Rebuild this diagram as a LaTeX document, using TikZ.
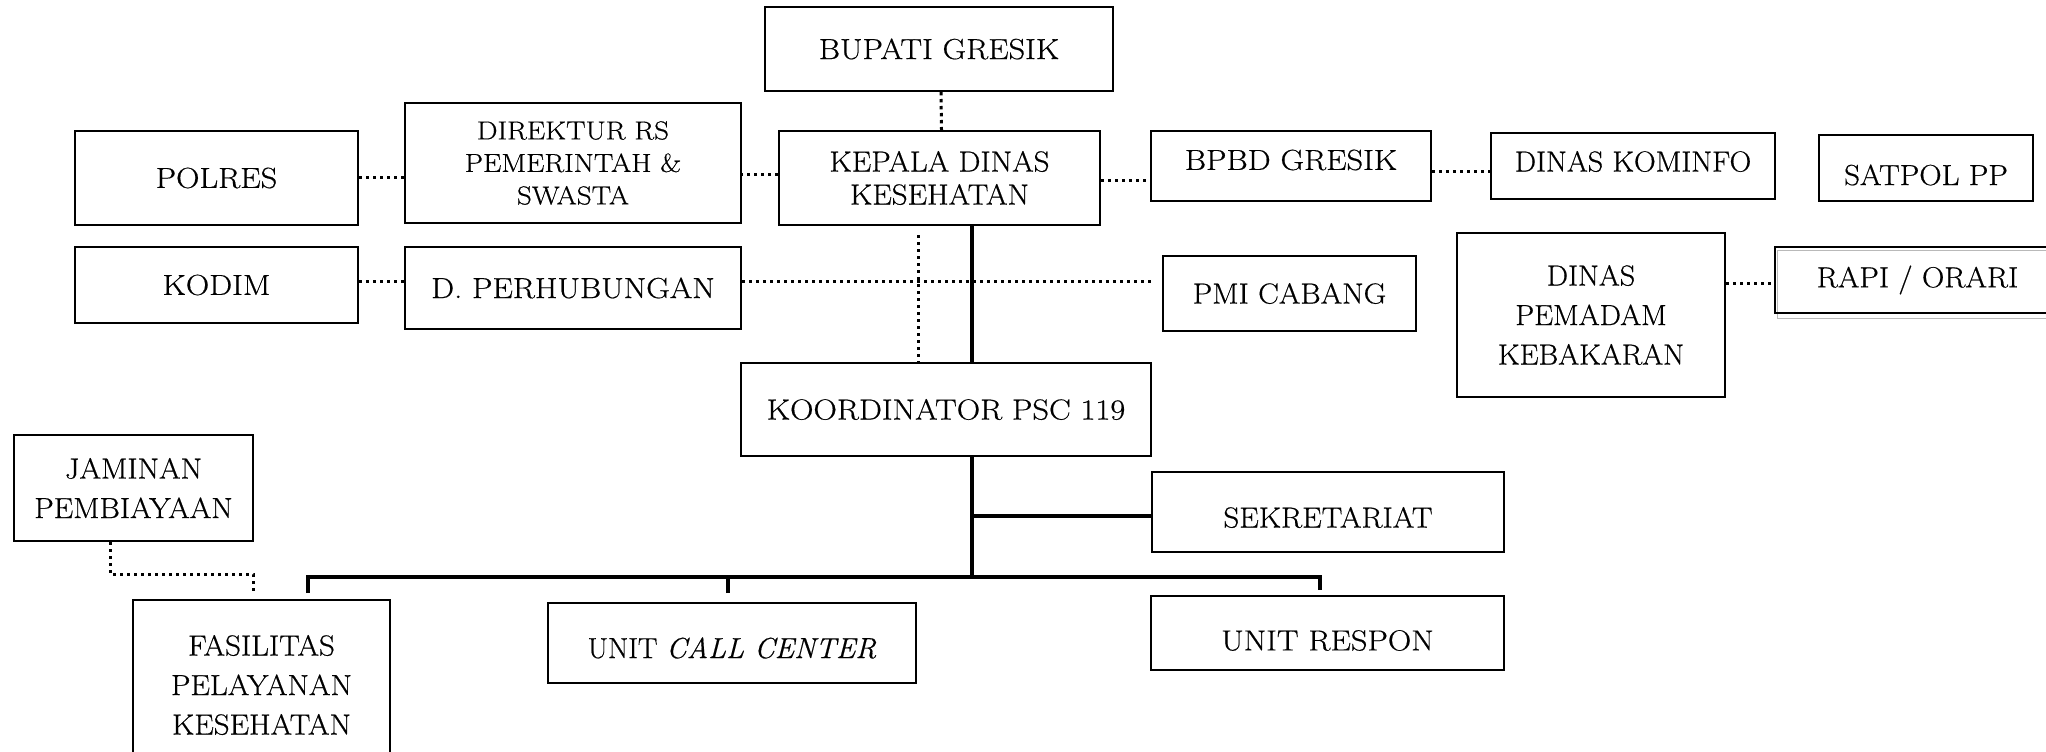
\documentclass[tikz,border=0pt]{standalone}
\usepackage{fontspec}
\setmainfont{Latin Modern Roman}[FakeStretch=1.12,FakeBold=0.5]
\newfontfamily\fnar{Latin Modern Roman}[FakeStretch=1.07,FakeBold=0.5]
\newfontfamily\fnarr{Latin Modern Roman}[FakeStretch=1.04,FakeBold=0.5]
\newfontfamily\fcall{Latin Modern Roman}[FakeStretch=1.01,FakeBold=0.5]
\newcommand\shtxt[2]{\raisebox{#1}[\height][\depth]{#2}}
\begin{document}
\begin{tikzpicture}[x=1pt,y=-1pt,
  box/.style={draw,line width=2pt,inner sep=0pt,align=center,
    font=\fontsize{29}{34}\selectfont},
  dotline/.style={line width=3pt,dash pattern=on 3.3pt off 3.7pt},
  conn/.style={line width=3.2pt}]
\useasboundingbox (0,0) rectangle (2046,752);
\fill[white] (0,0) rectangle (2046,752);
\clip (0,0) rectangle (2046,752);
% boxes
\node[box,minimum width=348pt,minimum height=84pt] (bupati) at (939,49) {BUPATI GRESIK};
\node[box,minimum width=283pt,minimum height=94pt] (polres) at (216.5,178) {POLRES};
\node[box,minimum width=336pt,minimum height=120pt,font=\fontsize{26}{32.5}\selectfont] (direktur) at (573,163) {DIREKTUR RS\\PEMERINTAH \&\\SWASTA};
\node[box,minimum width=321pt,minimum height=94pt,font=\fnar\fontsize{29}{33}\selectfont] (kepala) at (939.5,178) {KEPALA DINAS\\KESEHATAN};
\node[box,minimum width=280pt,minimum height=70pt] (bpbd) at (1291,166) {\shtxt{6pt}{BPBD GRESIK}};
\node[box,minimum width=284pt,minimum height=66pt,font=\fnarr\fontsize{29}{34}\selectfont] (kominfo) at (1633,166) {\shtxt{4.5pt}{DINAS KOMINFO}};
\node[box,minimum width=214pt,minimum height=66pt,font=\fnar\fontsize{29}{34}\selectfont] (satpol) at (1926,168) {\shtxt{-7pt}{SATPOL PP}};
\node[box,minimum width=283pt,minimum height=76pt] (kodim) at (216.5,285) {KODIM};
\node[box,minimum width=336pt,minimum height=82pt] (perhub) at (573,288) {D. PERHUBUNGAN};
\node[box,minimum width=253pt,minimum height=75pt,font=\fnar\fontsize{29}{34}\selectfont] (pmi) at (1289.5,293.5) {PMI CABANG};
\node[box,minimum width=268pt,minimum height=164pt,font=\fnarr\fontsize{29}{39.5}\selectfont] (pemadam) at (1591,315) {DINAS\\PEMADAM\\KEBAKARAN};
\draw[gray!55,line width=1pt] (1777,250) rectangle (2070,318);
\node[box,minimum width=295pt,minimum height=66pt,font=\fnar\fontsize{29}{34}\selectfont] (rapi) at (1922.5,280) {\hspace*{-10pt}RAPI / ORARI};
\node[box,minimum width=410pt,minimum height=93pt] (koord) at (946,409.5) {KOORDINATOR PSC 119};
\node[box,minimum width=239pt,minimum height=106pt,font=\fnar\fontsize{29}{39.5}\selectfont] (jaminan) at (133.5,488) {JAMINAN\\PEMBIAYAAN};
\node[box,minimum width=352pt,minimum height=80pt,font=\fnar\fontsize{29}{34}\selectfont] (sekret) at (1328,512) {\shtxt{-5.5pt}{SEKRETARIAT}};
\node[box,minimum width=257pt,minimum height=170pt,font=\fnar\fontsize{29}{39.5}\selectfont] (fasil) at (261.5,685) {FASILITAS\\PELAYANAN\\KESEHATAN};
\node[box,minimum width=368pt,minimum height=80pt,font=\fcall\fontsize{29}{34}\selectfont] (callc) at (732,643) {\shtxt{-5pt}{UNIT \textit{CALL CENTER}}};
\node[box,minimum width=353pt,minimum height=74pt] (respon) at (1327.5,633) {\shtxt{-7.5pt}{UNIT RESPON}};
% dotted connectors
\draw[dotline] ([xshift=2pt]bupati.south) -- ([xshift=2pt]kepala.north);
\draw[dotline] ([yshift=1pt]polres.east) -- ([yshift=1pt]polres.east -| direktur.west);
\draw[dotline] ([yshift=4pt]kepala.west) -- ([yshift=4pt]kepala.west -| direktur.east);
\draw[dotline] ([yshift=-2pt]kepala.east) -- ([yshift=-2pt]kepala.east -| bpbd.west);
\draw[dotline] ([yshift=-5pt]bpbd.east) -- ([yshift=-5pt]bpbd.east -| kominfo.west);
\draw[dotline] ([yshift=4pt]kodim.east) -- ([yshift=4pt]kodim.east -| perhub.west);
\draw[dotline] ([yshift=7pt]perhub.east) -- ([yshift=7pt]perhub.east -| koord.east);
\draw[dotline] ([xshift=-21.5pt,yshift=-9pt]kepala.south) -- ([xshift=-21.5pt]kepala.south |- koord.north);
\draw[dotline] ([yshift=32pt]pemadam.east) -- ([yshift=32pt]pemadam.east -| rapi.west);
\draw[dotline] ([xshift=-23.5pt]jaminan.south) |- ([xshift=-8.5pt,yshift=25pt]fasil.north) -- ([xshift=-8.5pt,yshift=6pt]fasil.north);
% solid connectors
\coordinate (kx) at ([xshift=26pt]koord.south);
\coordinate (busY) at (0,577);
\coordinate (dF) at ([xshift=46.5pt,yshift=6pt]fasil.north);
\coordinate (dC) at ([xshift=-4pt,yshift=9pt]callc.north);
\coordinate (dR) at ([xshift=-7.5pt,yshift=5pt]respon.north);
\draw[conn] ([xshift=32.5pt]kepala.south) -- ([xshift=32.5pt]kepala.south |- koord.north);
\draw[conn] (kx) -- (kx |- busY);
\draw[conn] (sekret.west |- 0,516) -- (kx |- 0,516);
\draw[conn] (dF) -- (dF |- busY) -- (dR |- busY) -- (dR);
\draw[conn] (dC) -- (dC |- busY);
\end{tikzpicture}
\end{document}
